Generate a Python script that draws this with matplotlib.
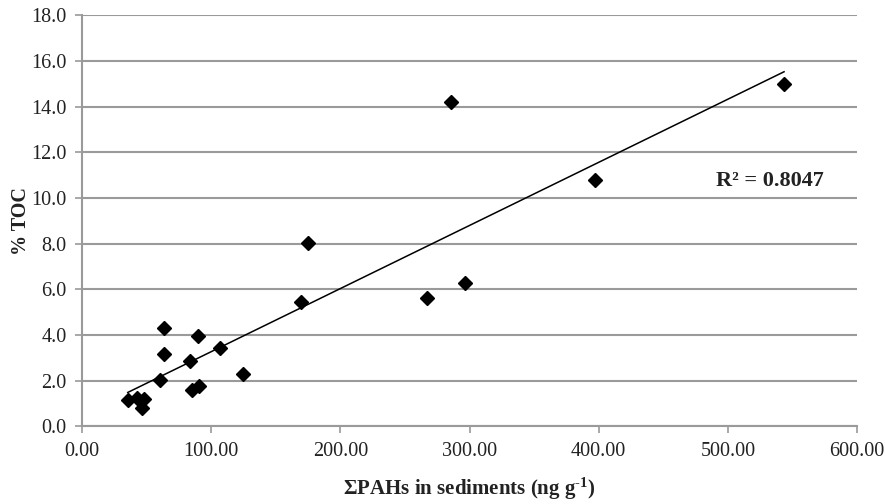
import numpy as np
import matplotlib
matplotlib.use("Agg")
import matplotlib.pyplot as plt
from matplotlib.ticker import FormatStrFormatter

plt.rcParams['font.family'] = ['Liberation Serif', 'DejaVu Serif']
plt.rcParams['mathtext.fontset'] = 'custom'
plt.rcParams['mathtext.rm'] = 'Liberation Serif:bold'
plt.rcParams['mathtext.default'] = 'rm'

# sum of PAHs (ng/g) vs % TOC
pahs = [35.4, 42.8, 48.0, 46.4, 60.4, 63.7, 63.7, 83.4, 89.5, 85.4,
        90.8, 106.8, 124.6, 169.3, 175.2, 266.8, 296.5, 285.7, 397.4, 543.5]
toc = [1.15, 1.26, 1.19, 0.82, 2.03, 4.29, 3.15, 2.87, 3.97, 1.59,
       1.78, 3.42, 2.29, 5.43, 8.01, 5.63, 6.26, 14.2, 10.78, 14.98]
r2_label = "R² = 0.8047"

GRID = '#9a9a9a'

fig = plt.figure(figsize=(8.85, 5.04), dpi=100)
ax = fig.add_axes([0.0927, 0.154, 0.8757, 0.816])

# linear trendline
slope, icpt = np.polyfit(pahs, toc, 1)
xs = np.array([min(pahs), max(pahs)])
ax.plot(xs, slope * xs + icpt, color='black', lw=1.1, zorder=2)
ax.plot(pahs, toc, 'D', color='black', ms=6.8, zorder=3)

ax.set_xlim(0, 600)
ax.set_ylim(0, 18)
ax.set_xticks(np.arange(0, 601, 100))
ax.set_yticks(np.arange(0, 18.1, 2))
ax.xaxis.set_major_formatter(FormatStrFormatter('%.2f'))
ax.yaxis.set_major_formatter(FormatStrFormatter('%.1f'))
ax.grid(axis='y', color=GRID, lw=1.5)
ax.set_axisbelow(True)

for s in ['top', 'right']:
    ax.spines[s].set_visible(False)
for s in ['left', 'bottom']:
    ax.spines[s].set_color(GRID)
    ax.spines[s].set_linewidth(1.5)
ax.tick_params(colors=GRID, labelcolor='#222222', labelsize=14.5, length=5, width=1.2, pad=6)

ax.text(491, 10.5, r2_label, fontsize=16, fontweight='bold', color='#222222', va='baseline')
ax.set_ylabel('% TOC', fontsize=14.5, fontweight='bold', color='#222222', labelpad=0)
ax.set_xlabel(r'ΣPAHs in sediments (ng g$^{\text{-}1}$)', fontsize=15, fontweight='bold',
              color='#222222', labelpad=11)

fig.savefig('out.png', dpi=100)
